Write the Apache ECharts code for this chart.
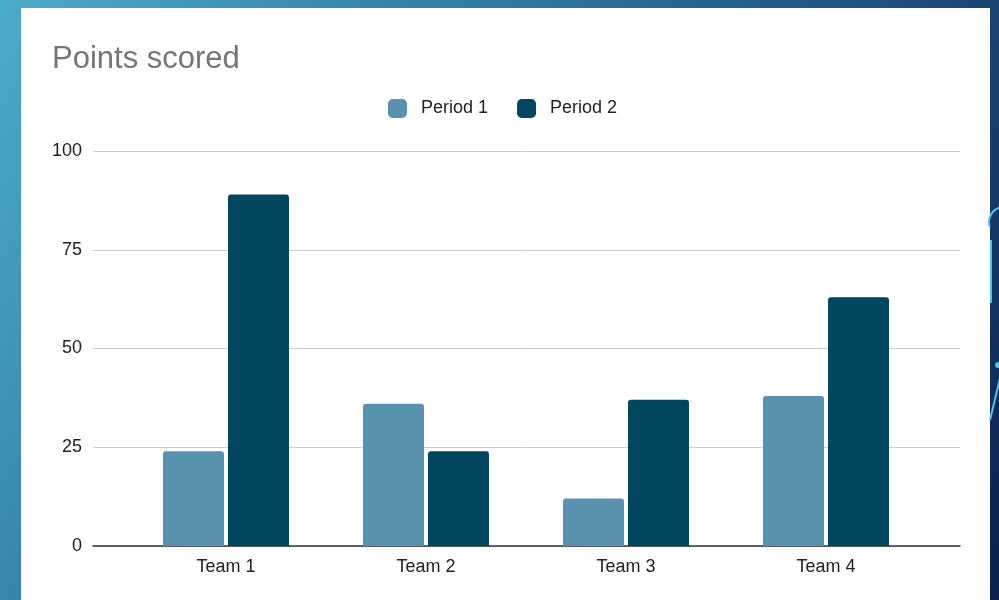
<!DOCTYPE html>
<html>
<head>
<meta charset="utf-8">
<script src="https://cdn.jsdelivr.net/npm/echarts@6/dist/echarts.min.js"></script>
<style>
html,body{margin:0;padding:0;width:999px;height:600px;overflow:hidden;}
#chart{width:999px;height:600px;}
</style>
</head>
<body>
<div id="chart"></div>
<script>
const categories = ['Team 1', 'Team 2', 'Team 3', 'Team 4'];
const period1 = [24, 36, 12, 38];
const period2 = [89, 24, 37, 63];
const seriesNames = ['Period 1', 'Period 2'];
const yTicks = [0, 25, 50, 75, 100];

const FONT = '"Liberation Sans", Arial, sans-serif';
const chart = echarts.init(document.getElementById('chart'), null, {renderer: 'canvas'});

chart.setOption({
  backgroundColor: {
    type: 'linear', x: 0, y: 0, x2: 1, y2: 1,
    colorStops: [
      {offset: 0, color: '#4cabc8'},
      {offset: 0.45, color: '#2a6f98'},
      {offset: 1, color: '#0c1f4c'}
    ]
  },
  animation: false,
  textStyle: {fontFamily: FONT},
  graphic: [
    {type: 'rect', z: -10, shape: {x: 21, y: 8, width: 969, height: 600}, style: {fill: '#ffffff'}},
    {type: 'arc', z: -10, shape: {cx: 1004, cy: 222, r: 15, startAngle: Math.PI * 0.9, endAngle: Math.PI * 1.6}, style: {stroke: '#4fc3e3', lineWidth: 2, fill: null}},
    {type: 'line', z: -10, shape: {x1: 991, y1: 240, x2: 991, y2: 303}, style: {stroke: '#4fc3e3', lineWidth: 2}},
    {type: 'circle', z: -10, shape: {cx: 998, cy: 365, r: 3}, style: {fill: '#4fc3e3'}},
    {type: 'line', z: -10, shape: {x1: 1000, y1: 378, x2: 990, y2: 420}, style: {stroke: '#4fc3e3', lineWidth: 2}}
  ],
  title: {
    text: 'Points scored',
    left: 47, top: 39,
    textStyle: {fontFamily: FONT, fontSize: 31, fontWeight: 'normal', color: '#757575'}
  },
  legend: {
    data: seriesNames,
    left: 383, top: 94,
    itemWidth: 19, itemHeight: 19, itemGap: 29,
    icon: 'roundRect',
    textStyle: {fontFamily: FONT, fontSize: 18, color: '#222222', padding: [0, 0, 0, 9]}
  },
  grid: [
    {left: 93, right: 39, top: 151, bottom: 54},
    {left: 126, right: 73, top: 151, bottom: 54}
  ],
  xAxis: [
    {gridIndex: 0, type: 'value', min: 0, max: 1, axisLabel: {show: false}, axisTick: {show: false}, splitLine: {show: false},
     axisLine: {show: true, lineStyle: {color: '#333333', width: 1.5}}},
    {gridIndex: 1, type: 'category', data: categories, axisTick: {show: false}, axisLine: {show: false},
     axisLabel: {fontFamily: FONT, fontSize: 18, color: '#222222', margin: 12}}
  ],
  yAxis: [
    {gridIndex: 0, type: 'value', min: yTicks[0], max: yTicks[yTicks.length - 1], interval: 25,
     axisLine: {show: false}, axisTick: {show: false},
     axisLabel: {fontFamily: FONT, fontSize: 18, color: '#222222', margin: 11},
     splitLine: {lineStyle: {color: '#cccccc', width: 1}}},
    {gridIndex: 1, type: 'value', min: 0, max: 100, show: false}
  ],
  series: [
    {name: seriesNames[0], type: 'bar', xAxisIndex: 1, yAxisIndex: 1, data: period1,
     barWidth: 61, barGap: '6.5%', itemStyle: {color: '#5991ae', borderRadius: [3, 3, 0, 0]}},
    {name: seriesNames[1], type: 'bar', xAxisIndex: 1, yAxisIndex: 1, data: period2,
     barWidth: 61, barGap: '6.5%', itemStyle: {color: '#02465f', borderRadius: [3, 3, 0, 0]}}
  ]
});
</script>
</body>
</html>
